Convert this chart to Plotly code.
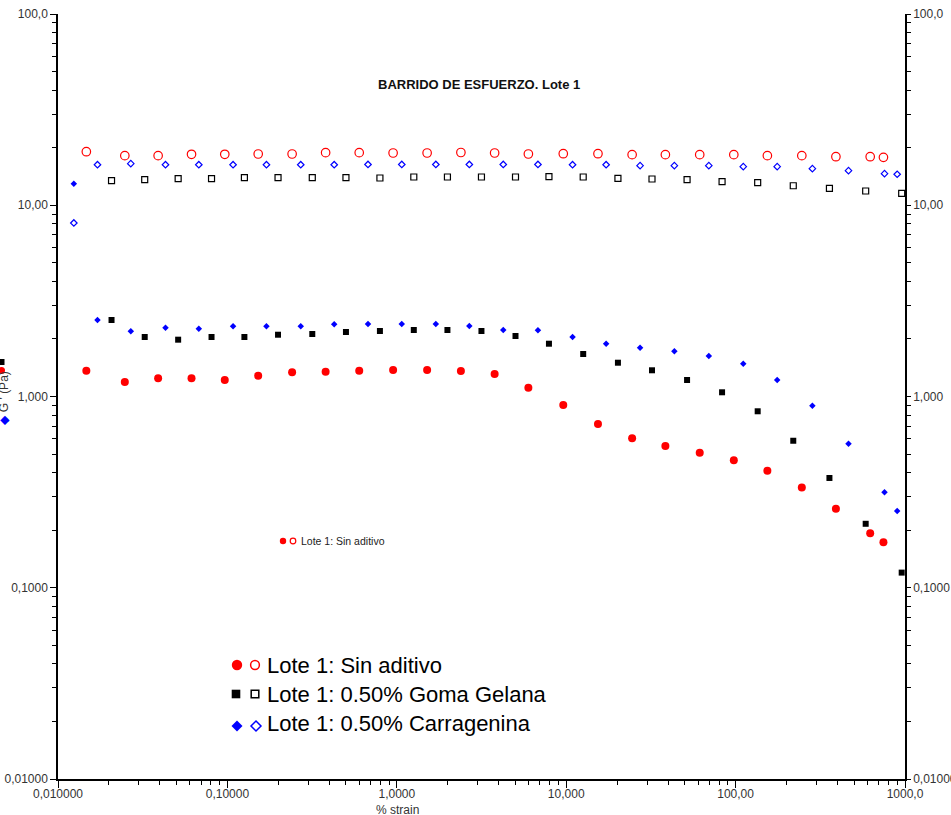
import plotly.graph_objects as go

# ---- data: strain sweep, Lote 1 ----
# Sin aditivo
strain_sa = [0.0147, 0.0248, 0.0390, 0.0614, 0.0965, 0.152, 0.241, 0.380, 0.600,
             0.951, 1.51, 2.39, 3.78, 5.98, 9.61, 15.4, 24.5, 38.5, 61.4, 97.6,
             154.0, 246.0, 391.0, 623.0, 746.0]
storage_sa = [19.05, 18.16, 18.16, 18.47, 18.47, 18.53, 18.53, 18.83, 18.83, 18.76,
              18.76, 18.87, 18.76, 18.53, 18.60, 18.60, 18.38, 18.38, 18.38, 18.38,
              18.16, 18.16, 17.94, 17.94, 17.81]
loss_sa = [1.364, 1.191, 1.245, 1.245, 1.220, 1.285, 1.338, 1.348, 1.364, 1.376,
           1.376, 1.359, 1.311, 1.112, 0.903, 0.718, 0.605, 0.551, 0.508, 0.464,
           0.409, 0.334, 0.259, 0.193, 0.173]

# 0.50% Goma Gelana
strain_gg = [0.0207, 0.0325, 0.0512, 0.0806, 0.126, 0.199, 0.317, 0.501, 0.795,
             1.26, 1.99, 3.16, 5.02, 7.91, 12.6, 20.2, 32.1, 51.7, 83.2, 135.0,
             219.0, 358.0, 586.0, 956.0]
storage_gg = [13.44, 13.60, 13.77, 13.77, 13.93, 13.93, 13.93, 13.93, 13.88, 14.05,
              14.05, 14.05, 14.05, 14.10, 14.05, 13.83, 13.72, 13.60, 13.28, 13.12,
              12.65, 12.26, 11.87, 11.55]
loss_gg = [2.512, 2.047, 1.982, 2.047, 2.047, 2.104, 2.122, 2.174, 2.200, 2.227,
           2.227, 2.200, 2.072, 1.888, 1.668, 1.502, 1.371, 1.220, 1.052, 0.837,
           0.587, 0.375, 0.216, 0.120]

# 0.50% Carragenina
strain_ca = [0.0124, 0.0171, 0.0269, 0.0431, 0.0678, 0.108, 0.170, 0.271, 0.427,
             0.676, 1.07, 1.70, 2.68, 4.25, 6.81, 10.9, 17.2, 27.3, 43.5, 69.5,
             111.0, 176.0, 284.0, 464.0, 757.0, 899.0]
storage_ca = [8.08, 16.29, 16.50, 16.29, 16.29, 16.29, 16.29, 16.29, 16.29, 16.34,
              16.34, 16.34, 16.34, 16.34, 16.34, 16.29, 16.29, 16.10, 16.10, 16.10,
              15.91, 15.91, 15.53, 15.16, 14.62, 14.52]
loss_ca = [12.96, 2.512, 2.193, 2.289, 2.262, 2.328, 2.328, 2.328, 2.385, 2.393,
           2.393, 2.393, 2.337, 2.227, 2.219, 2.047, 1.888, 1.799, 1.723, 1.628,
           1.484, 1.220, 0.895, 0.567, 0.316, 0.252]

x_tickvals = [0.01, 0.1, 1, 10, 100, 1000]
x_ticktext = ["0,010000", "0,10000", "1,0000", "10,000", "100,00", "1000,0"]
y_tickvals = [0.01, 0.1, 1, 10, 100]
y_ticktext = ["0,01000", "0,1000", "1,000", "10,00", "100,0"]

legend_labels = ["Lote 1: Sin aditivo", "Lote 1: 0.50% Goma Gelana",
                 "Lote 1: 0.50% Carragenina"]

RED, BLACK, BLUE = "#ff0000", "#000000", "#0000ff"
FONT = "Liberation Sans, Arial, sans-serif"

W, H = 951, 815
ML, MR, MT, MB = 58, 46, 14, 36
PW, PH = W - ML - MR, H - MT - MB


def px(xp):
    return (xp - ML) / PW


def py(yp):
    return (H - MB - yp) / PH


fig = go.Figure()


def series(x, y, symbol, color, size, yaxis, lw=1.2):
    fig.add_trace(go.Scatter(
        x=x, y=y, mode="markers", yaxis=yaxis, showlegend=False,
        marker=dict(symbol=symbol, size=size, color=color,
                    line=dict(color=color, width=lw)),
        hoverinfo="x+y"))


# storage modulus (open markers) on the left axis
series(strain_sa, storage_sa, "circle-open", RED, 8.5, "y")
series(strain_gg, storage_gg, "square-open", BLACK, 6, "y")
series(strain_ca, storage_ca, "diamond-open", BLUE, 5, "y")
# loss modulus (filled markers) on the right axis
series(strain_sa, loss_sa, "circle", RED, 8, "y2", 0)
series(strain_gg, loss_gg, "square", BLACK, 6, "y2", 0)
series(strain_ca, loss_ca, "diamond", BLUE, 5, "y2", 0)

minor_x = [m * 10 ** e for e in range(-2, 3) for m in range(2, 10)]
minor_y = [m * 10 ** e for e in range(-2, 2) for m in range(2, 10)]

tickfont = dict(family=FONT, size=12, color="#333333")

fig.update_layout(
    width=W, height=H,
    margin=dict(l=ML, r=MR, t=MT, b=MB, pad=0),
    paper_bgcolor="white", plot_bgcolor="white",
    font=dict(family=FONT, color="black"),
    showlegend=False,
    xaxis=dict(type="log", range=[-2, 3], showgrid=False, zeroline=False,
               showline=True, linecolor="black", linewidth=1.5,
               ticks="outside", ticklen=7, tickwidth=1, tickcolor="black",
               tickvals=x_tickvals, ticktext=x_ticktext, tickfont=tickfont,
               ticklabelstandoff=-4,
               minor=dict(tickvals=minor_x, ticks="outside", ticklen=4,
                          tickcolor="black", tickwidth=1, showgrid=False),
               automargin=False),
    yaxis=dict(type="log", range=[-2, 2], showgrid=False, zeroline=False,
               showline=True, linecolor="black", linewidth=1.5,
               ticks="outside", ticklen=6, tickwidth=1, tickcolor="black",
               tickvals=y_tickvals, ticktext=y_ticktext, tickfont=tickfont,
               minor=dict(tickvals=minor_y, ticks="outside", ticklen=4,
                          tickcolor="black", tickwidth=1, showgrid=False),
               automargin=False),
    yaxis2=dict(type="log", range=[-2, 2], overlaying="y", side="right",
                showgrid=False, zeroline=False,
                showline=True, linecolor="black", linewidth=1.5,
                ticks="outside", ticklen=4, tickwidth=1, tickcolor="black",
                tickvals=y_tickvals, ticktext=y_ticktext, tickfont=tickfont,
                minor=dict(tickvals=minor_y, ticks="outside", ticklen=4,
                           tickcolor="black", tickwidth=1, showgrid=False),
                automargin=False),
)

annotations = [
    dict(text="<b>BARRIDO DE ESFUERZO. Lote 1</b>", x=px(479), y=py(84),
         font=dict(family=FONT, size=13, color="#111111")),
    dict(text="% strain", x=px(397), y=py(810),
         font=dict(family=FONT, size=12, color="#333333")),
    dict(text="<span style='color:#0000ff'>◆</span> G ' (Pa)", x=px(3.5), y=py(398),
         textangle=-90, font=dict(family=FONT, size=12, color="#333333")),
    dict(text=legend_labels[0], x=px(299), y=py(541), xanchor="left",
         font=dict(family=FONT, size=10.5, color="#222222")),
]
rows_y = [665, 694, 723]
for lbl, yy in zip(legend_labels, rows_y):
    annotations.append(dict(text=lbl, x=px(265), y=py(yy), xanchor="left",
                            font=dict(family=FONT, size=22, color="black")))
for a in annotations:
    a.setdefault("xref", "paper")
    a.setdefault("yref", "paper")
    a.setdefault("showarrow", False)
    a.setdefault("yanchor", "middle")
    a.setdefault("xanchor", "center")
fig.update_layout(annotations=annotations)


def glyph(kind, cx, cy, r, color, filled, lw=1.5):
    base = dict(xref="paper", yref="paper", xsizemode="pixel", ysizemode="pixel",
                xanchor=px(cx), yanchor=py(cy), layer="above",
                fillcolor=color if filled else "rgba(0,0,0,0)",
                line=dict(color=color, width=0 if filled else lw))
    if kind == "circle":
        base.update(type="circle", x0=-r, x1=r, y0=-r, y1=r)
    elif kind == "square":
        base.update(type="rect", x0=-r, x1=r, y0=-r, y1=r)
    else:
        base.update(type="path", path=f"M0,{r} L{r},0 L0,{-r} L{-r},0 Z")
    fig.add_shape(**base)


# legend keys
glyph("circle", 237, 665, 5.2, RED, True)
glyph("circle", 255, 665, 4.4, RED, False)
glyph("square", 236, 694, 4.3, BLACK, True)
glyph("square", 255, 694, 3.8, BLACK, False)
glyph("diamond", 237, 726, 5.5, BLUE, True)
glyph("diamond", 256, 726, 5.0, BLUE, False)

glyph("circle", 283, 541, 3.2, RED, True)
glyph("circle", 293, 541, 2.8, RED, False, 1.2)

# keys beside the vertical axis title
glyph("square", 1.5, 362, 3.0, BLACK, True)
glyph("circle", 1.5, 370.5, 3.5, RED, True)

fig.write_html("out.html")
